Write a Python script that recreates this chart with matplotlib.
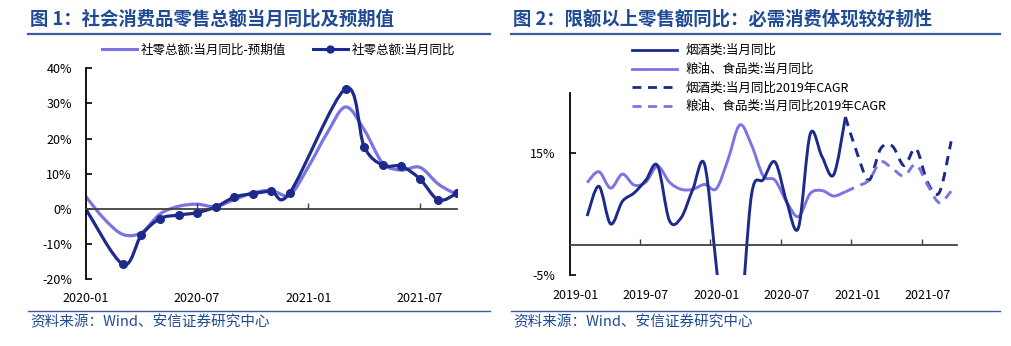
import numpy as np
import matplotlib
matplotlib.use('Agg')
import matplotlib.pyplot as plt
from matplotlib.path import Path
from matplotlib.patches import PathPatch
from matplotlib.lines import Line2D

plt.rcParams['font.family'] = ['Noto Sans CJK SC', 'DejaVu Sans']
plt.rcParams['axes.unicode_minus'] = False

# --- datos figura 1 (社零) ---
months1 = ['2020-01', '2020-02', '2020-03', '2020-04', '2020-05', '2020-06', '2020-07',
           '2020-08', '2020-09', '2020-10', '2020-11', '2020-12', '2021-01', '2021-02',
           '2021-03', '2021-04', '2021-05', '2021-06', '2021-07', '2021-08', '2021-09']
retail_yoy = [0.0, None, -15.8, -7.5, -2.8, -1.8, -1.1, 0.5, 3.3, 4.3, 5.0, 4.6,
              None, None, 34.2, 17.7, 12.4, 12.1, 8.5, 2.5, 4.4]
retail_expected = [3.5, -2.9, -7.3, -6.8, -1.5, 0.7, 1.3, 0.6, 2.6, 4.5, 5.2, 4.0,
                   12.0, 21.5, 29.0, 22.5, 13.0, 11.0, 11.8, 7.0, 4.0]
xticks1 = ['2020-01', '2020-07', '2021-01', '2021-07']

# --- datos figura 2 (限额以上) ---
months2 = [f'{y}-{m:02d}' for y in (2019, 2020, 2021) for m in range(1, 13)][:33]
N = None
tobacco = [N, 4.7, 9.6, 3.4, 7.1, 8.5, 10.6, 13.0, 4.0, 4.4, 9.1, 13.2,
           -3.5, -20.0, -14.0, 8.2, 10.7, 13.6, 7.0, 2.8, 18.2, 14.5, 11.5, 21.0,
           N, N, N, N, N, N, N, N, N]
food = [N, 10.2, 12.0, 9.3, 11.6, 9.8, 10.3, 12.9, 10.3, 9.1, 9.1, 9.9,
        9.2, 14.0, 19.7, 16.4, 11.3, 10.6, 7.0, 4.6, 8.4, 8.9, 8.0, 8.7,
        N, N, N, N, N, N, N, N, N]
tobacco_cagr = [N] * 23 + [21.0, 15.0, 10.6, 15.8, 16.2, 13.0, 15.8, 10.2, 8.6, 17.0]
food_cagr = [N] * 23 + [8.7, 9.6, 10.6, 13.6, 12.5, 11.3, 13.2, 9.8, 6.9, 8.8]
xticks2 = ['2019-01', '2019-07', '2020-01', '2020-07', '2021-01', '2021-07']

DARK = '#1B2A8C'
LIGHT = '#7B74E2'
TITLE_C = '#1F4A94'
RULE_C = '#3A5BA0'


def serie(vals):
    x = np.array([i for i, v in enumerate(vals) if v is not None], dtype=float)
    y = np.array([v for v in vals if v is not None], dtype=float)
    return x, y


def curva(ax, x, y, color, lw, ls='-'):
    # linea suavizada (tipo Excel) con bezier cubicas
    pts = np.column_stack([x, y])
    verts = [pts[0]]
    codes = [Path.MOVETO]
    n = len(pts)
    for i in range(n - 1):
        p0 = pts[i - 1] if i > 0 else pts[i]
        p1, p2 = pts[i], pts[i + 1]
        p3 = pts[i + 2] if i + 2 < n else pts[i + 1]
        verts += [p1 + (p2 - p0) / 6, p2 - (p3 - p1) / 6, p2]
        codes += [Path.CURVE4] * 3
    patch = PathPatch(Path(verts, codes), fill=False, edgecolor=color, lw=lw,
                      linestyle=ls, capstyle='butt', joinstyle='round')
    ax.add_patch(patch)


fig = plt.figure(figsize=(10.12, 3.46), dpi=100)
W, H = 1012, 346

# ---------------- figura 1 ----------------
ax1 = fig.add_axes([85.7 / W, 1 - 279 / H, 371.3 / W, (279 - 68.3) / H])
x, y = serie(retail_expected)
curva(ax1, x, y, LIGHT, 2.3)
x, y = serie(retail_yoy)
curva(ax1, x, y, DARK, 2.3)
ax1.plot(x[1:], y[1:], 'o', color=DARK, ms=5.5, zorder=5)
ax1.set_xlim(0, len(months1) - 1)
ax1.set_ylim(-20, 40)
ax1.set_yticks(range(-20, 41, 10))
ax1.set_yticklabels([f'{v}%' for v in range(-20, 41, 10)])

h1 = [Line2D([], [], color=LIGHT, lw=2.2),
      Line2D([], [], color=DARK, lw=2.2, marker='o', ms=5)]
ax1.legend(h1, ['社零总额:当月同比-预期值', '社零总额:当月同比'], ncol=2, frameon=False,
           loc='center left', bbox_to_anchor=(96 / W, 1 - 50 / H),
           bbox_transform=fig.transFigure, fontsize=9, handlelength=2.8,
           handletextpad=0.3, columnspacing=2.1, numpoints=1, borderpad=0)

# ---------------- figura 2 ----------------
ax2 = fig.add_axes([569.5 / W, 1 - 275 / H, 387.5 / W, (275 - 92.7) / H])
x, y = serie(food)
curva(ax2, x, y, LIGHT, 2.1)
x, y = serie(tobacco)
curva(ax2, x, y, DARK, 2.1)
x, y = serie(tobacco_cagr)
curva(ax2, x, y, DARK, 2.1, (0, (3.2, 2.4)))
x, y = serie(food_cagr)
curva(ax2, x, y, LIGHT, 2.1, (0, (3.2, 2.4)))
ax2.set_xlim(-0.5, len(months2) - 0.5)
ax2.set_ylim(-5, 25)
ax2.set_yticks([-5, 15])
ax2.set_yticklabels(['-5%', '15%'])

h2 = [Line2D([], [], color=DARK, lw=2.0),
      Line2D([], [], color=LIGHT, lw=2.0),
      Line2D([], [], color=DARK, lw=2.0, ls=(0, (3.2, 2.4))),
      Line2D([], [], color=LIGHT, lw=2.0, ls=(0, (3.2, 2.4)))]
ax2.legend(h2, ['烟酒类:当月同比', '粮油、食品类:当月同比', '烟酒类:当月同比2019年CAGR',
                '粮油、食品类:当月同比2019年CAGR'],
           frameon=False, loc='upper left', bbox_to_anchor=(626 / W, 1 - 38 / H),
           bbox_transform=fig.transFigure, fontsize=9, handlelength=3.6,
           handletextpad=0.7, labelspacing=0.45, borderpad=0)

# ejes comunes: eje x en cero con ticks hacia arriba, etiquetas abajo
for ax, months, labs, tickpos, pad_x in (
        (ax1, months1, xticks1, [months1.index(l) for l in xticks1[1:]], 9),
        (ax2, months2, xticks2, [months2.index(l) - 0.5 for l in xticks2[1:]], 10)):
    for s in ('top', 'right'):
        ax.spines[s].set_visible(False)
    ax.spines['bottom'].set_position(('data', 0))
    ax.spines['bottom'].set_color('#404040')
    ax.spines['bottom'].set_linewidth(1.3)
    ax.spines['left'].set_linewidth(1.3)
    ax.set_xticks(tickpos)
    ax.tick_params(axis='x', direction='in', length=4, width=1, labelbottom=False,
                   color='#404040')
    ax.tick_params(axis='y', direction='in', length=4, width=1.2, labelsize=9, pad=10)
    sec = ax.secondary_xaxis('bottom')
    sec.spines['bottom'].set_visible(False)
    sec.set_xticks([months.index(l) for l in labs])
    sec.set_xticklabels(labs)
    sec.tick_params(length=0, labelsize=9, pad=pad_x)

# titulos, reglas y fuente
fig.text(30 / W, 1 - 19.5 / H, '图 1：社会消费品零售总额当月同比及预期值', fontsize=13.2,
         fontweight='bold', color=TITLE_C, va='center', ha='left')
fig.text(513 / W, 1 - 19.5 / H, '图 2：限额以上零售额同比：必需消费体现较好韧性', fontsize=13.2,
         fontweight='bold', color=TITLE_C, va='center', ha='left')
for x0, x1 in ((28, 490), (511, 1000)):
    fig.add_artist(Line2D([x0 / W, x1 / W], [1 - 34 / H] * 2, color=RULE_C, lw=1.6,
                          transform=fig.transFigure))
    fig.add_artist(Line2D([x0 / W, x1 / W], [1 - 311 / H] * 2, color=RULE_C, lw=1.0,
                          transform=fig.transFigure))
for x0 in (30, 513):
    fig.text(x0 / W, 1 - 322 / H, '资料来源：Wind、安信证券研究中心', fontsize=10.5,
             color=TITLE_C, va='center', ha='left', style='italic')

fig.savefig('out.png', dpi=100)
